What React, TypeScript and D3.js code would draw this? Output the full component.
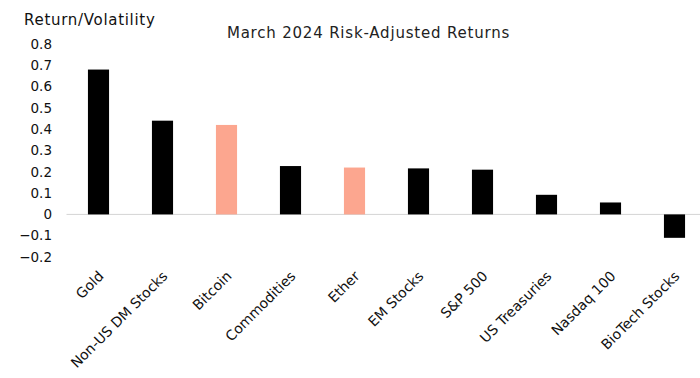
import React from "react";
import * as d3 from "d3";

const categories = [
  "Gold",
  "Non-US DM Stocks",
  "Bitcoin",
  "Commodities",
  "Ether",
  "EM Stocks",
  "S&P 500",
  "US Treasuries",
  "Nasdaq 100",
  "BioTech Stocks",
];
const values = [0.68, 0.44, 0.42, 0.227, 0.22, 0.216, 0.21, 0.092, 0.056, -0.11];
const highlighted = ["Bitcoin", "Ether"];
const yTicks = [0.8, 0.7, 0.6, 0.5, 0.4, 0.3, 0.2, 0.1, 0, -0.1, -0.2];

const W = 700;
const H = 378;
const FONT = "'DejaVu Sans', 'Open Sans', sans-serif";

export default function App() {
  const x = d3.scaleBand<string>().domain(categories).range([66.5, 706.5]).paddingInner(0.67).paddingOuter(0.335);
  const y = d3.scaleLinear().domain([-0.2, 0.8]).range([257, 44]);
  const fmt = (v: number) => (v === 0 ? "0" : d3.format(".1f")(v));

  return (
    <svg width={W} height={H} style={{ position: "absolute", left: 0, top: 0, background: "#fff" }}>
      <rect x={0} y={0} width={W} height={H} fill="#fff" />
      <text x={24} y={25} fontFamily={FONT} fontSize={15} letterSpacing={0.7} fill="#111">Return/Volatility</text>
      <text x={368.5} y={38} textAnchor="middle" fontFamily={FONT} fontSize={15} letterSpacing={0.8} fill="#222">
        March 2024 Risk-Adjusted Returns
      </text>
      {yTicks.map((t) => (
        <text key={t} x={52} y={y(t)} dy="0.35em" textAnchor="end" fontFamily={FONT} fontSize={13.5} fill="#111">
          {fmt(t)}
        </text>
      ))}
      <line x1={66.5} x2={W} y1={y(0)} y2={y(0)} stroke="#d4d4d4" strokeWidth={1} />
      {categories.map((c, i) => {
        const v = values[i];
        const top = y(Math.max(0, v));
        const bot = y(Math.min(0, v));
        return (
          <rect
            key={c}
            x={x(c)}
            width={x.bandwidth()}
            y={top}
            height={bot - top}
            fill={highlighted.includes(c) ? "#fca68f" : "#000"}
          />
        );
      })}
      {categories.map((c) => {
        const cx = (x(c) as number) + x.bandwidth() / 2 + 6;
        const cy = 277;
        return (
          <text
            key={c}
            transform={`translate(${cx},${cy}) rotate(-45)`}
            textAnchor="end"
            fontFamily={FONT}
            fontSize={14}
            fill="#111"
          >
            {c}
          </text>
        );
      })}
    </svg>
  );
}
